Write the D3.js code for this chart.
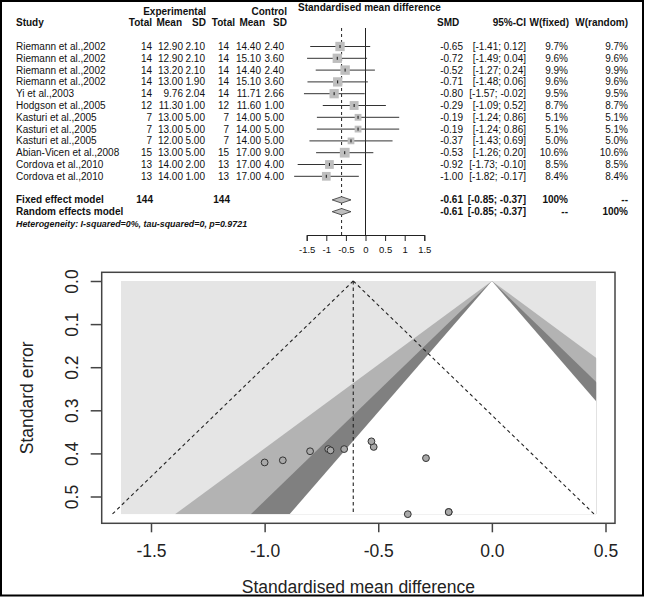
<!DOCTYPE html>
<html>
<head>
<meta charset="utf-8">
<script src="https://cdn.jsdelivr.net/npm/d3@7"></script>
<style>
  html, body { margin: 0; padding: 0; background: #fff; }
  svg { display: block; font-family: "Liberation Sans", Arial, Helvetica, sans-serif; }
</style>
</head>
<body>
<svg id="chart" width="646" height="597"></svg>
<script>
// ---------------- DATA ----------------
const studies = ["Riemann et al.,2002","Riemann et al.,2002","Riemann et al.,2002","Riemann et al.,2002",
  "Yi et al.,2003","Hodgson et al.,2005","Kasturi et al.,2005","Kasturi et al.,2005","Kasturi et al.,2005",
  "Abian-Vicen et al.,2008","Cordova et al.,2010","Cordova et al.,2010"];
const expTotal = [14,14,14,14,14,12,7,7,7,15,13,13];
const expMean  = ["12.90","12.90","13.20","13.00","9.76","11.30","13.00","13.00","12.00","13.00","14.00","14.00"];
const expSD    = ["2.10","2.10","2.10","1.90","2.04","1.00","5.00","5.00","5.00","5.00","2.00","1.00"];
const ctrlTotal = [14,14,14,14,14,12,7,7,7,15,13,13];
const ctrlMean  = ["14.40","15.10","14.40","15.10","11.71","11.60","14.00","14.00","14.00","17.00","17.00","17.00"];
const ctrlSD    = ["2.40","3.60","2.40","3.60","2.66","1.00","5.00","5.00","5.00","9.00","4.00","4.00"];
const smd    = [-0.65,-0.72,-0.52,-0.71,-0.80,-0.29,-0.19,-0.19,-0.37,-0.53,-0.92,-1.00];
const ciLow  = [-1.41,-1.49,-1.27,-1.48,-1.57,-1.09,-1.24,-1.24,-1.43,-1.26,-1.73,-1.82];
const ciHigh = [0.12,0.04,0.24,0.06,-0.02,0.52,0.86,0.86,0.69,0.20,-0.10,-0.17];
const wFixed  = [9.7,9.6,9.9,9.6,9.5,8.7,5.1,5.1,5.0,10.6,8.5,8.4];
const wRandom = [9.7,9.6,9.9,9.6,9.5,8.7,5.1,5.1,5.0,10.6,8.5,8.4];
const stdErr  = [0.390,0.390,0.385,0.393,0.395,0.411,0.536,0.536,0.541,0.372,0.416,0.421];
const modelNames = ["Fixed effect model","Random effects model"];
const pooledSMD = [-0.61,-0.61];
const pooledLow = [-0.85,-0.85];
const pooledHigh = [-0.37,-0.37];
const totalExp = 144, totalCtrl = 144;
const heterogeneity = "Heterogeneity: I-squared=0%, tau-squared=0, p=0.9721";
const forestTicks = [-1.5,-1,-0.5,0,0.5,1,1.5];
const forestTickLabels = ["-1.5","-1","-0.5","0","0.5","1","1.5"];
const funnelXTicks = [-1.5,-1.0,-0.5,0.0,0.5];
const funnelYTicks = [0.0,0.1,0.2,0.3,0.4,0.5];
const contourZ = [2.576, 1.960, 1.645];   // 99%, 95%, 90%
const contourColors = ["#b3b3b3","#808080","#ffffff"];
const contourXRange = [-1.632, 0.459];
const funnelSEMax = 0.5413;

// ---------------- SETUP ----------------
const svg = d3.select("#chart");
svg.append("rect").attr("width",646).attr("height",597).attr("fill","#fff");

const FS = 10;      // table font size
const rowY = i => 46.5 + 11.8 * i;
const fmtPct = v => v.toFixed(1) + "%";
const fmt2 = v => (v < 0 ? "-" : "") + Math.abs(v).toFixed(2);

function txt(x, y, s, opts = {}) {
  const t = svg.append("text").attr("x", x).attr("y", y).attr("dy","0.35em")
    .attr("font-size", opts.size || FS)
    .attr("text-anchor", opts.anchor || "start")
    .attr("fill", opts.fill || "#111")
    .text(s);
  if (opts.bold) t.attr("font-weight","bold");
  if (opts.italic) t.attr("font-style","italic");
  return t;
}

// ---------------- FOREST: headers ----------------
const hy1 = 11.1, hy2 = 22.9;
txt(206, hy1, "Experimental", {bold:true, anchor:"end"});
txt(287, hy1, "Control", {bold:true, anchor:"end"});
txt(298, 7.5, "Standardised mean difference", {bold:true});
txt(16, hy2, "Study", {bold:true});
txt(152, hy2, "Total", {bold:true, anchor:"end"});
txt(182, hy2, "Mean", {bold:true, anchor:"end"});
txt(206, hy2, "SD", {bold:true, anchor:"end"});
txt(235, hy2, "Total", {bold:true, anchor:"end"});
txt(265, hy2, "Mean", {bold:true, anchor:"end"});
txt(287, hy2, "SD", {bold:true, anchor:"end"});
txt(437, hy2, "SMD", {bold:true});
txt(526, hy2, "95%-CI", {bold:true, anchor:"end"});
txt(569, hy2, "W(fixed)", {bold:true, anchor:"end"});
txt(628, hy2, "W(random)", {bold:true, anchor:"end"});

// study rows
studies.forEach((s, i) => {
  const y = rowY(i);
  txt(16, y, s);
  txt(152, y, expTotal[i], {anchor:"end"});
  txt(183, y, expMean[i], {anchor:"end"});
  txt(205, y, expSD[i], {anchor:"end"});
  txt(229, y, ctrlTotal[i], {anchor:"end"});
  txt(261, y, ctrlMean[i], {anchor:"end"});
  txt(284, y, ctrlSD[i], {anchor:"end"});
  txt(463, y, fmt2(smd[i]), {anchor:"end"});
  txt(526, y, "[" + fmt2(ciLow[i]) + "; " + (ciHigh[i] >= 0 ? " " : "") + fmt2(ciHigh[i]) + "]", {anchor:"end"});
  txt(568, y, fmtPct(wFixed[i]), {anchor:"end"});
  txt(628, y, fmtPct(wRandom[i]), {anchor:"end"});
});

// model rows
const modelY = [rowY(13), rowY(14)];
modelNames.forEach((m, k) => {
  const y = modelY[k];
  txt(16, y, m, {bold:true});
  txt(463, y, fmt2(pooledSMD[k]), {anchor:"end", bold:true});
  txt(526, y, "[" + fmt2(pooledLow[k]) + "; " + fmt2(pooledHigh[k]) + "]", {anchor:"end", bold:true});
  txt(568, y, k === 0 ? "100%" : "--", {anchor:"end", bold:true});
  txt(628, y, k === 1 ? "100%" : "--", {anchor:"end", bold:true});
});
txt(153, modelY[0], totalExp, {anchor:"end", bold:true});
txt(230, modelY[0], totalCtrl, {anchor:"end", bold:true});
txt(16, rowY(15), heterogeneity, {bold:true, italic:true, size:8.9});

// forest graphics
const fx = d3.scaleLinear().domain([-1.5, 1.5]).range([306.7, 424.3]);
const axisY = 235;
const fg = svg.append("g");
fg.append("line").attr("x1", fx(0)).attr("x2", fx(0)).attr("y1", 28).attr("y2", axisY)
  .attr("stroke","#222").attr("stroke-width",1);
fg.append("line").attr("x1", fx(pooledSMD[0])).attr("x2", fx(pooledSMD[0])).attr("y1", 28).attr("y2", axisY)
  .attr("stroke","#222").attr("stroke-width",1).attr("stroke-dasharray","3,3");
const fAxis = d3.axisBottom(fx).tickValues(forestTicks).tickFormat((d,i)=>forestTickLabels[i]).tickSizeOuter(0).tickSize(6);
const fa = svg.append("g").attr("transform", `translate(0,${axisY})`).call(fAxis);
fa.select(".domain").attr("stroke","#222");
fa.selectAll(".tick line").attr("stroke","#222");
fa.selectAll(".tick text").attr("font-size", 9.5).attr("fill","#111").attr("font-family","Liberation Sans, Arial, sans-serif")
  .attr("y", 11).attr("dy","0.71em");

studies.forEach((s, i) => {
  const y = rowY(i);
  fg.append("line").attr("x1", fx(ciLow[i])).attr("x2", fx(ciHigh[i])).attr("y1", y).attr("y2", y)
    .attr("stroke","#333").attr("stroke-width",1);
  const sz = 3.0 * Math.sqrt(wFixed[i]);
  fg.append("rect").attr("x", fx(smd[i]) - sz/2).attr("y", y - sz/2).attr("width", sz).attr("height", sz)
    .attr("fill","#bebebe");
  fg.append("line").attr("x1", fx(smd[i])).attr("x2", fx(smd[i])).attr("y1", y - 1.5).attr("y2", y + 1.5)
    .attr("stroke","#111").attr("stroke-width",1);
});
modelY.forEach((y, k) => {
  const pts = [[fx(pooledLow[k]), y],[fx(pooledSMD[k]), y-3.2],[fx(pooledHigh[k]), y],[fx(pooledSMD[k]), y+3.2]];
  fg.append("polygon").attr("points", pts.map(p=>p.join(",")).join(" "))
    .attr("fill","#bebebe").attr("stroke","#333").attr("stroke-width",0.8);
});

// ---------------- FUNNEL ----------------
const box = {x0: 101.7, x1: 615, y0: 272.3, y1: 523.3};
const X = d3.scaleLinear().domain([-1.5, 0.5]).range([151, 605.5]);
const Y = d3.scaleLinear().domain([0, 0.5]).range([281, 496.5]);

svg.append("clipPath").attr("id","cregion").append("rect")
  .attr("x", X(contourXRange[0])).attr("y", Y(0))
  .attr("width", X(contourXRange[1]) - X(contourXRange[0])).attr("height", Y(funnelSEMax) - Y(0));
const cg = svg.append("g").attr("clip-path","url(#cregion)");
cg.append("rect").attr("x", X(contourXRange[0])).attr("y", Y(0))
  .attr("width", X(contourXRange[1]) - X(contourXRange[0])).attr("height", Y(funnelSEMax) - Y(0))
  .attr("fill","#e5e5e5");
contourZ.forEach((z, k) => {
  const pts = [[X(0), Y(0)], [X(-z*funnelSEMax), Y(funnelSEMax)], [X(z*funnelSEMax), Y(funnelSEMax)]];
  cg.append("polygon").attr("points", pts.map(p=>p.join(",")).join(" ")).attr("fill", contourColors[k]);
});

// pooled funnel dashed lines
const te = pooledSMD[0];
const dashed = "3.5,3";
svg.append("line").attr("x1", X(te)).attr("x2", X(te)).attr("y1", Y(0)).attr("y2", Y(funnelSEMax))
  .attr("stroke","#222").attr("stroke-width",1.1).attr("stroke-dasharray", dashed);
[-1, 1].forEach(sgn => {
  svg.append("line").attr("x1", X(te)).attr("y1", Y(0))
    .attr("x2", X(te + sgn*1.96*funnelSEMax)).attr("y2", Y(funnelSEMax))
    .attr("stroke","#222").attr("stroke-width",1.1).attr("stroke-dasharray", dashed);
});

// points
smd.forEach((v, i) => {
  svg.append("circle").attr("cx", X(v)).attr("cy", Y(stdErr[i])).attr("r", 3.4)
    .attr("fill","#a9a9a9").attr("stroke","#333").attr("stroke-width",1);
});

// box
svg.append("rect").attr("x", box.x0).attr("y", box.y0).attr("width", box.x1 - box.x0).attr("height", box.y1 - box.y0)
  .attr("fill","none").attr("stroke","#444").attr("stroke-width",1.5);

// axes
const xAx = svg.append("g").attr("transform", `translate(0,${box.y1})`)
  .call(d3.axisBottom(X).tickValues(funnelXTicks).tickFormat(d3.format(".1f")).tickSize(9).tickSizeOuter(0));
xAx.select(".domain").remove();
xAx.selectAll(".tick line").attr("stroke","#444").attr("stroke-width",1.5);
xAx.selectAll(".tick text").attr("font-size", 17.5).attr("fill","#222").attr("y", 28)
  .attr("font-family","Liberation Sans, Arial, sans-serif").attr("dy","0.35em")
  .text(d => d.toFixed(1));

const yAx = svg.append("g").attr("transform", `translate(${box.x0},0)`)
  .call(d3.axisLeft(Y).tickValues(funnelYTicks).tickFormat(d3.format(".1f")).tickSize(11).tickSizeOuter(0));
yAx.select(".domain").remove();
yAx.selectAll(".tick line").attr("stroke","#444").attr("stroke-width",1.5);
yAx.selectAll(".tick text").attr("font-size", 17.5).attr("fill","#222")
  .attr("font-family","Liberation Sans, Arial, sans-serif")
  .attr("x", null).attr("dy", null)
  .attr("text-anchor","middle")
  .attr("transform", "translate(-30,0) rotate(-90)")
  .attr("dominant-baseline","central");

svg.append("text").attr("x", (box.x0 + box.x1)/2).attr("y", 586.5).attr("dy","0.35em")
  .attr("text-anchor","middle").attr("font-size", 17.5).attr("fill","#222")
  .text("Standardised mean difference");
svg.append("text").attr("transform", `translate(26.7, ${(box.y0+box.y1)/2}) rotate(-90)`)
  .attr("dy","0.35em").attr("text-anchor","middle").attr("font-size", 17.5).attr("fill","#222")
  .text("Standard error");

// outer frame
svg.append("rect").attr("x", 1).attr("y", 1).attr("width", 642).attr("height", 594.5)
  .attr("fill","none").attr("stroke","#000").attr("stroke-width", 2);
</script>
</body>
</html>
